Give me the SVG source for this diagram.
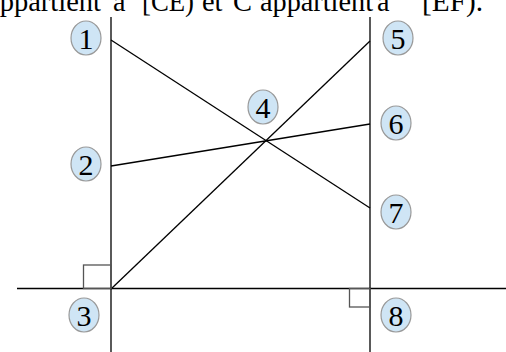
<svg xmlns="http://www.w3.org/2000/svg" width="506" height="352" viewBox="0 0 506 352">
<style>
.ln{stroke:#000;stroke-width:1.3;fill:none}
.ra{stroke:#555;stroke-width:1.3;fill:none}
.bub{fill:#cfe5f5;stroke:#999;stroke-width:1.2}
</style>
<rect width="506" height="352" fill="#fff"/>
<text y="11" font-family="Liberation Serif, serif" font-size="28.5" fill="#000"><tspan x="-13" textLength="114" lengthAdjust="spacingAndGlyphs">appartient</tspan><tspan x="113" textLength="12.5" lengthAdjust="spacingAndGlyphs">à</tspan><tspan x="142" textLength="52" lengthAdjust="spacingAndGlyphs">[CE)</tspan><tspan x="202" textLength="20.5" lengthAdjust="spacingAndGlyphs">et</tspan><tspan x="233" textLength="19" lengthAdjust="spacingAndGlyphs">C</tspan><tspan x="260" textLength="113" lengthAdjust="spacingAndGlyphs">appartient</tspan><tspan x="377" textLength="12.5" lengthAdjust="spacingAndGlyphs">à</tspan><tspan x="422" textLength="61" lengthAdjust="spacingAndGlyphs">[EF).</tspan></text>
<g id="connectors">
<line class="ln" x1="111" y1="17" x2="111" y2="352"/>
<line class="ln" x1="370" y1="17" x2="370" y2="352"/>
<line class="ln" x1="17" y1="288.5" x2="506" y2="288.5"/>
<line class="ln" x1="111" y1="40" x2="370" y2="208"/>
<line class="ln" x1="111" y1="166" x2="370" y2="124"/>
<line class="ln" x1="111" y1="289" x2="370" y2="41"/>
<rect class="ra" x="83.5" y="265" width="27.5" height="23.5"/>
<rect class="ra" x="349.5" y="288.5" width="20.5" height="18.5"/>
</g>
<g font-family="Liberation Serif, serif" font-size="30" text-anchor="middle" fill="#000">
<g id="n1"><ellipse class="bub" cx="86" cy="38" rx="15" ry="17"/><text x="86" y="48.5">1</text></g>
<g id="n2"><ellipse class="bub" cx="86" cy="164" rx="15" ry="17"/><text x="86" y="174.5">2</text></g>
<g id="n3"><ellipse class="bub" cx="84" cy="315" rx="15" ry="17"/><text x="84" y="325.5">3</text></g>
<g id="n4"><ellipse class="bub" cx="263" cy="107" rx="15" ry="17"/><text x="263" y="117.5">4</text></g>
<g id="n5"><ellipse class="bub" cx="398" cy="38" rx="15" ry="17"/><text x="398" y="48.5">5</text></g>
<g id="n6"><ellipse class="bub" cx="396" cy="123" rx="15" ry="17"/><text x="396" y="133.5">6</text></g>
<g id="n7"><ellipse class="bub" cx="396" cy="212" rx="15" ry="17"/><text x="396" y="222.5">7</text></g>
<g id="n8"><ellipse class="bub" cx="396" cy="315" rx="15" ry="17"/><text x="396" y="325.5">8</text></g>
</g>
</svg>
